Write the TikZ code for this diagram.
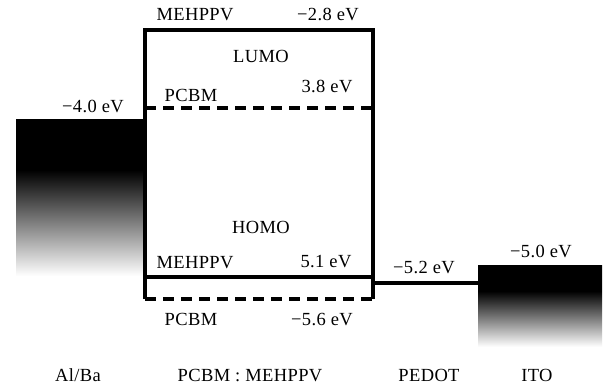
\documentclass[tikz,border=0pt]{standalone}
\usepackage{fontspec}
\setmainfont{Liberation Serif}[LetterSpace=2]
\pgfdeclareverticalshading{blockfade}{100bp}{color(0bp)=(white); color(28bp)=(white); color(60bp)=(black); color(100bp)=(black)}
\tikzset{
  band/.style={line width=4pt, line join=miter},
  dashband/.style={line width=4pt, dash pattern=on 10.5pt off 7.5pt},
  lbl/.style={inner sep=0pt, anchor=base, font=\fontsize{18.5}{22}\selectfont},
  block/.style={shading=blockfade, draw=none}
}
\begin{document}
\begin{tikzpicture}[x=1pt,y=-1pt]
\useasboundingbox[fill=white] (0,0) rectangle (613,385);
% electrodes
\shade[block] (16,120) rectangle (144,286);
\shade[block] (478,265) rectangle (602,352);
% coordinates
\coordinate (tl) at (145,30);
\coordinate (tr) at (373,30);
\coordinate (bl) at (145,299);
\coordinate (br) at (373,299);
\coordinate (ll) at (145,108);
\coordinate (lr) at (373,108);
\coordinate (hl) at (145,277);
\coordinate (hr) at (373,277);
\coordinate (pl) at (373,283);
\coordinate (pr) at (478,283);
% box
\draw[dashband] (ll) -- (lr);
\draw[dashband] (bl) -- (br);
\draw[band] (bl) -- (tl) -- (tr) -- (br);
\draw[band] (hl) -- (hr);
\draw[band] (pl) -- (pr);
% labels
\node[lbl] (m1) at (195,21) {MEHPPV};
\node[lbl] (e1) at (328,21) {−2.8 eV};
\node[lbl] (lumo) at (261,63) {LUMO};
\node[lbl] (p1) at (191,102) {PCBM};
\node[lbl] (e2) at (327,93) {3.8 eV};
\node[lbl] (e3) at (93,113) {−4.0 eV};
\node[lbl] (homo) at (261,233) {HOMO};
\node[lbl] (m2) at (195,268) {MEHPPV};
\node[lbl] (e4) at (326,267) {5.1 eV};
\node[lbl] (p2) at (191,325) {PCBM};
\node[lbl] (e5) at (322,325) {−5.6 eV};
\node[lbl] (e6) at (424,273) {−5.2 eV};
\node[lbl] (e7) at (541,257) {−5.0 eV};
\node[lbl] (b1) at (78,381) {Al/Ba};
\node[lbl] (b2) at (250,381) {PCBM : MEHPPV};
\node[lbl] (b3) at (429,381) {PEDOT};
\node[lbl] (b4) at (537,381) {ITO};
\end{tikzpicture}
\end{document}
